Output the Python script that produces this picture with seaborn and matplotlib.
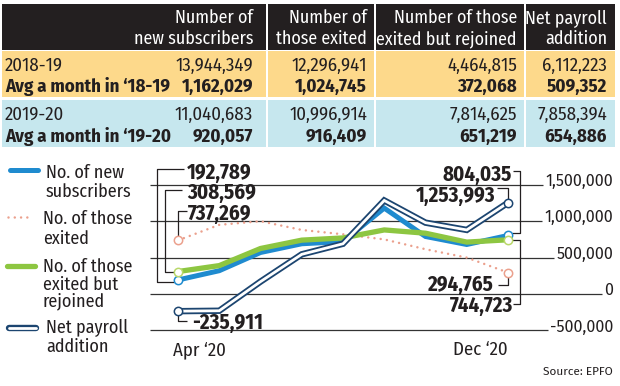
import matplotlib
matplotlib.use('Agg')
import matplotlib.pyplot as plt
import matplotlib.transforms as mtrans
from matplotlib.lines import Line2D
from matplotlib.patches import Rectangle
import seaborn as sns
import pandas as pd
import numpy as np

# ---------------- data ----------------
table_headers = [["Number of", "new subscribers"],
                 ["Number of", "those exited"],
                 ["Number of those", "exited but rejoined"],
                 ["Net payroll", "addition"]]
row_labels = ["2018-19", "Avg a month in \u201818-19", "2019-20", "Avg a month in \u201819-20"]
total_2018_19 = [13944349, 12296941, 4464815, 6112223]
avg_2018_19 = [1162029, 1024745, 372068, 509352]
total_2019_20 = [11040683, 10996914, 7814625, 7858394]
avg_2019_20 = [920057, 916409, 651219, 654886]

months = ["Apr \u201820", "May \u201820", "Jun \u201820", "Jul \u201820", "Aug \u201820",
          "Sep \u201820", "Oct \u201820", "Nov \u201820", "Dec \u201820"]
new_subscribers = [192789, 320000, 570000, 690000, 720000, 1180000, 790000, 680000, 804035]
exited = [737269, 950000, 1000000, 880000, 820000, 750000, 615000, 500000, 294765]
rejoined = [308569, 390000, 625000, 740000, 770000, 880000, 835000, 713000, 744723]
net_payroll = [-235911, -230000, 170000, 545000, 690000, 1285000, 980000, 880000, 1253993]

y_ticks = [1500000, 1000000, 500000, 0, -500000]
legend_labels = [["No. of new", "subscribers"], ["No. of those", "exited"],
                 ["No. of those", "exited but", "rejoined"], ["Net payroll", "addition"]]
source_text = "Source: EPFO"

# ---------------- style ----------------
sns.set_theme(style='white')
COND = ['Fira Sans Condensed', 'Roboto Condensed', 'DejaVu Sans']
REG = ['Fira Sans', 'Liberation Sans', 'DejaVu Sans']
plt.rcParams['font.family'] = COND

INK = '#231f20'
C_NEW = '#1f8bcf'
C_EXIT = '#eba08d'
C_REJ = '#8dc641'
C_NET = '#1c4570'
ORANGE = '#fdd98b'
LBLUE = '#c6e7ee'

W, H = 620, 386
fig = plt.figure(figsize=(6.2, 3.86), dpi=100)
fig.patch.set_facecolor('white')


def fx(px):
    return px / W


def fy(py):
    return 1 - py / H


def cap(pt):
    return 0.689 * pt * 100 / 72


# ---------------- table ----------------
TX0, TX1 = 2, 615
bands = [(4, 49.5, INK), (51, 97, ORANGE), (99.5, 146.5, LBLUE)]
for y0, y1, c in bands:
    fig.add_artist(Rectangle((fx(TX0), fy(y1)), fx(TX1) - fx(TX0), fy(y0) - fy(y1),
                             transform=fig.transFigure, facecolor=c, edgecolor='none', zorder=0))
for sx in [267, 375, 525]:
    fig.add_artist(Rectangle((fx(sx - 1), fy(147)), fx(2), fy(3) - fy(147),
                             transform=fig.transFigure, facecolor='white', edgecolor='none', zorder=1))

col_right = [253, 367, 517, 607]
TS = 13.5
for j, hdr in enumerate(table_headers):
    for k, line in enumerate(hdr):
        fig.text(fx(col_right[j]), fy([22.7, 44.3][k]), line, ha='right', va='baseline',
                 color='white', fontsize=12.9, zorder=3)

rows = [total_2018_19, avg_2018_19, total_2019_20, avg_2019_20]
row_base = [70.7, 92.3, 120.0, 142.3]
for r, (lab, vals) in enumerate(zip(row_labels, rows)):
    w = 'bold' if r % 2 == 1 else 'normal'
    fig.text(fx(5), fy(row_base[r]), lab, ha='left', va='baseline', color=INK,
             fontsize=TS, fontweight=w, zorder=3)
    for j, v in enumerate(vals):
        fig.text(fx(col_right[j]), fy(row_base[r]), f"{v:,}", ha='right', va='baseline',
                 color=INK, fontsize=TS, fontweight=w, zorder=3)

# ---------------- chart ----------------
AX_L, AX_R, AX_T, AX_B = 150, 615, 160, 340
ax = fig.add_axes([fx(AX_L), fy(AX_B), fx(AX_R) - fx(AX_L), fy(AX_T) - fy(AX_B)])
ax.set_facecolor('none')

df = pd.DataFrame({'i': np.arange(len(months)), 'month': months,
                   'new': new_subscribers, 'exited': exited,
                   'rejoined': rejoined, 'net': net_payroll})

sns.lineplot(data=df, x='i', y='exited', ax=ax, color=C_EXIT, lw=1.8,
             linestyle=(0, (0.01, 2.5)), dash_capstyle='round', zorder=3)
sns.lineplot(data=df, x='i', y='new', ax=ax, color=C_NEW, lw=3.6, zorder=4,
             solid_joinstyle='miter')
sns.lineplot(data=df, x='i', y='rejoined', ax=ax, color=C_REJ, lw=3.8, zorder=5)
sns.lineplot(data=df, x='i', y='net', ax=ax, color=C_NET, lw=4.6, zorder=6,
             solid_joinstyle='miter')
sns.lineplot(data=df, x='i', y='net', ax=ax, color='white', lw=2.0, zorder=7,
             solid_joinstyle='miter')

ends = df.iloc[[0, -1]]
for col, c, z in [('exited', C_EXIT, 8), ('new', C_NEW, 8), ('rejoined', '#b9d86a', 9), ('net', C_NET, 9)]:
    sns.scatterplot(data=ends, x='i', y=col, ax=ax, s=36, color='white', edgecolor=c,
                    linewidth=1.1, zorder=z)

# scales: px = 178 + 41.25*i ; y px = 294 - v/500000*36.4
PXM, X0 = 41.25, 178
PYV, Y0 = 36.4 / 500000, 294
ax.set_xlim((AX_L - X0) / PXM, (AX_R - X0) / PXM)
ax.set_ylim((Y0 - AX_B) / PYV, (Y0 - AX_T) / PYV)
ax.axis('off')

# y tick labels and gridlines
blend = mtrans.blended_transform_factory(fig.transFigure, ax.transData)
blend_off = mtrans.offset_copy(blend, fig=fig, x=0, y=-1.2, units='dots')
tick_texts = []
for t in y_ticks:
    tt = ax.text(fx(613), t, f"{t:,}", transform=blend_off, ha='right', va='baseline',
                 fontsize=11.5, family=REG, color=INK)
    tick_texts.append(tt)
fig.canvas.draw()
rend = fig.canvas.get_renderer()
inv = ax.transData.inverted()
for t, tt in zip(y_ticks, tick_texts):
    bb = tt.get_window_extent(rend)
    xend = inv.transform((bb.x0 - 2, 0))[0]
    ax.hlines(t, ax.get_xlim()[0], xend, color='#333333', lw=0.9, zorder=1)

# x labels
bx = mtrans.blended_transform_factory(ax.transData, fig.transFigure)
ax.text(-0.12, fy(355), months[0], transform=bx, ha='left', va='baseline', fontsize=13.5, color=INK)
ax.text(len(months) - 1, fy(355), months[-1], transform=bx, ha='right', va='baseline',
        fontsize=13.5, color=INK)

# callouts
LBL = 15


def callout(i, v, path, toff, ha):
    d = ax.transData.transform((i, v))
    pts = np.array([(d[0] + dx, d[1] - dy) for dx, dy in path])
    dp = inv.transform(pts)
    ax.plot(dp[:, 0], dp[:, 1], color=INK, lw=0.9, zorder=2.5, solid_capstyle='butt')
    tx, ty = inv.transform((d[0] + toff[0], d[1] - (toff[1] + cap(LBL) / 2)))
    ax.text(tx, ty, f"{v:,}", ha=ha, va='baseline', fontsize=LBL, fontweight='bold', color=INK)


last = len(months) - 1
callout(0, new_subscribers[0], [(-4, 2), (-21, 2), (-21, -111), (6, -111)], (9, -108), 'left')
callout(0, rejoined[0], [(-4, 0), (-13, 0), (-13, -82), (4, -82)], (9, -79.5), 'left')
callout(0, exited[0], [(0, -4), (0, -29), (9, -29)], (10, -28), 'left')
callout(0, net_payroll[0], [(0, 4), (0, 10), (9, 10)], (14, 10.8), 'left')
callout(last, new_subscribers[-1], [(4, -2), (12, -2), (12, -64), (5, -64)], (4, -62), 'right')
callout(last, net_payroll[-1], [(0, -4), (0, -15), (-11, -15)], (-13, -7.5), 'right')
callout(last, exited[-1], [(0, 4), (0, 12.5), (-10, 12.5)], (-15, 11.5), 'right')
callout(last, rejoined[-1], [(4, 0), (12, 0), (12, 64), (5, 64)], (5, 65), 'right')

# ---------------- legend (manual) ----------------
def leg_line(x0, x1, y, **kw):
    fig.add_artist(Line2D([fx(x0), fx(x1)], [fy(y), fy(y)], transform=fig.transFigure, **kw))


leg_line(10, 38, 170, color=C_NEW, lw=3.6, solid_capstyle='round')
leg_line(8, 32, 217, color=C_EXIT, lw=1.8, linestyle=(0, (0.01, 2.5)), dash_capstyle='round')
leg_line(7, 35, 266, color=C_REJ, lw=3.8, solid_capstyle='round')
leg_line(9, 36, 328, color=C_NET, lw=4.6, solid_capstyle='round')
leg_line(9, 36, 328, color='white', lw=2.0, solid_capstyle='round')

leg_x = [46, 43, 43, 46]
leg_base = [[178.3, 196.7], [224, 244], [271.7, 290, 306.7], [333.3, 351.7]]
for lab, x, bases in zip(legend_labels, leg_x, leg_base):
    for line, b in zip(lab, bases):
        fig.text(fx(x), fy(b), line, ha='left', va='baseline', fontsize=13, color=INK)

fig.text(fx(613), fy(375), source_text, ha='right', va='baseline', fontsize=8.5,
         family=REG, color=INK)

fig.savefig('out.png', dpi=100, facecolor='white')
